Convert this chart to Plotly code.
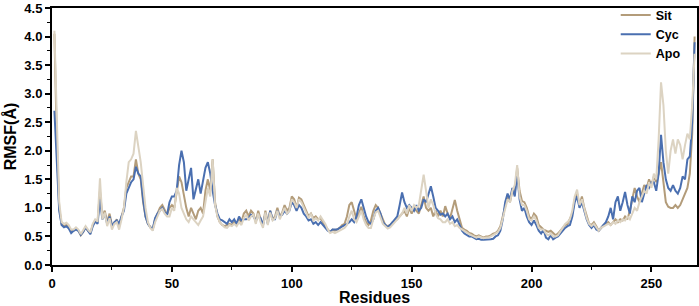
import plotly.graph_objects as go

residues = list(range(1, 269))

sit = [4.05, 2.2, 1.0, 0.72, 0.68, 0.7, 0.66, 0.6, 0.6, 0.64,
       0.6, 0.52, 0.58, 0.66, 0.6, 0.56, 0.7, 0.78, 0.75, 1.3,
       0.85, 0.95, 0.75, 0.9, 0.7, 0.72, 0.8, 0.68, 0.85, 1.0,
       1.35, 1.45, 1.55, 1.55, 1.85, 1.6, 1.5, 1.1, 0.85, 0.72,
       0.66, 0.62, 0.8, 0.9, 1.0, 1.05, 0.95, 0.88, 1.0, 1.05,
       1.0, 1.3, 1.55, 1.45, 1.2, 1.0, 0.85, 1.0, 0.9, 0.8,
       0.95, 1.0, 0.9, 1.3, 1.5, 1.3, 1.85, 1.1, 0.85, 0.75,
       0.7, 0.68, 0.7, 0.72, 0.7, 0.75, 0.72, 0.8, 0.75, 0.9,
       0.95, 0.85, 0.95, 0.9, 0.75, 0.95, 0.8, 0.7, 0.95, 0.75,
       0.95, 0.8, 0.85, 1.0, 0.85, 0.92, 1.05, 0.95, 1.0, 1.2,
       1.15, 1.0, 1.18, 1.15, 1.05, 0.95, 0.85, 0.9, 0.82, 0.85,
       0.8, 0.82, 0.75, 0.7, 0.62, 0.58, 0.62, 0.6, 0.62, 0.65,
       0.7, 0.72, 0.85, 1.05, 1.1, 0.95, 0.8, 0.9, 1.02, 0.85,
       0.75, 0.7, 0.78, 0.95, 1.05, 1.0, 0.9, 0.8, 0.7, 0.68,
       0.7, 0.75, 0.78, 0.8, 0.85, 0.9, 0.95, 0.85, 1.0, 0.9,
       1.0, 0.95, 0.9, 1.05, 1.2, 1.0, 0.95, 1.0, 0.85, 0.95,
       0.85, 0.95, 0.85, 1.03, 0.9, 0.82, 1.0, 1.14, 0.95, 0.8,
       0.65, 0.62, 0.6, 0.56, 0.55, 0.52, 0.5, 0.52, 0.5, 0.48,
       0.5, 0.5, 0.52, 0.55, 0.56, 0.6, 0.68, 0.85, 1.05, 1.2,
       1.1, 1.3, 1.25, 1.7, 1.3, 1.12, 1.1, 1.0, 0.85, 0.8,
       0.9, 0.85, 0.7, 0.65, 0.62, 0.6, 0.58, 0.6, 0.55, 0.52,
       0.55, 0.6, 0.65, 0.7, 0.72, 0.8, 0.9, 1.15, 1.25, 1.05,
       1.2, 1.0, 0.85, 0.72, 0.7, 0.75, 0.68, 0.6, 0.65, 0.7,
       0.72, 0.75, 0.7, 0.75, 0.8, 0.75, 0.8, 0.78, 0.85, 0.8,
       0.95, 1.15, 1.35, 1.2, 1.1, 1.25, 1.4, 1.35, 1.5, 1.4,
       1.55, 1.45, 1.6, 1.8, 1.4, 1.1, 1.02, 1.0, 1.0, 1.05,
       1.0, 1.05, 1.15, 1.25, 1.35, 1.6, 2.3, 4.0]

cyc = [2.7, 1.7, 0.95, 0.7, 0.66, 0.68, 0.64, 0.56, 0.6, 0.62,
       0.6, 0.53, 0.58, 0.66, 0.6, 0.54, 0.68, 0.76, 0.72, 1.15,
       0.8, 0.9, 0.72, 0.85, 0.68, 0.75, 0.78, 0.72, 0.85, 0.95,
       1.25, 1.35, 1.45, 1.5, 1.72, 1.6, 1.55, 1.15, 0.85, 0.72,
       0.66, 0.63, 0.82, 0.9, 0.95, 1.0, 0.92, 0.88, 1.1, 1.2,
       1.2, 1.3, 1.75, 2.0, 1.8, 1.3, 1.5, 1.7, 1.15, 1.35,
       1.5, 1.25, 1.5, 1.7, 1.8, 1.6, 1.3, 1.05, 0.9, 0.8,
       0.78, 0.75, 0.72, 0.8, 0.75, 0.8, 0.72, 0.85, 0.78, 0.8,
       0.8, 0.82, 0.88, 0.85, 0.78, 0.85, 0.82, 0.7, 0.9, 0.72,
       0.95, 0.8, 0.8, 0.95, 0.85, 0.88, 0.95, 0.9, 0.95, 1.1,
       1.05, 0.95, 1.05, 1.0, 0.9, 0.85, 0.78, 0.8, 0.72, 0.75,
       0.7, 0.75, 0.7, 0.65, 0.6, 0.58, 0.62, 0.62, 0.62, 0.65,
       0.68, 0.7, 0.72, 0.75, 0.8, 0.75, 0.85, 1.05, 1.15, 1.0,
       0.85, 0.75, 0.72, 0.8, 0.95, 1.0, 0.9, 0.75, 0.7, 0.66,
       0.7, 0.75, 0.78, 0.85, 1.05, 1.27, 1.1, 1.0, 1.05, 1.0,
       0.95, 1.05, 0.95, 1.0, 1.15, 1.1, 1.25, 1.38, 1.2, 1.0,
       0.95, 0.88, 0.9, 0.85, 0.9, 0.8, 0.85, 0.75, 0.8, 0.7,
       0.6, 0.55, 0.52, 0.5, 0.5, 0.48, 0.45, 0.46, 0.44, 0.44,
       0.44, 0.44, 0.45, 0.46, 0.5, 0.52, 0.6, 0.8, 1.1, 1.25,
       1.15, 1.35, 1.2, 1.6, 1.15, 0.95, 1.0, 0.85, 0.75, 0.7,
       0.78, 0.7, 0.6, 0.55, 0.62, 0.48, 0.45, 0.52, 0.45, 0.48,
       0.5, 0.55, 0.6, 0.65, 0.68, 0.7, 0.85, 1.1, 1.2, 1.0,
       1.1, 0.95, 0.8, 0.7, 0.65, 0.7, 0.62, 0.6, 0.65, 0.7,
       0.75, 0.85, 1.0, 0.8, 1.1, 1.2, 0.95, 1.1, 1.28, 1.05,
       0.9, 1.2, 1.1, 1.3, 1.35, 1.1, 1.25, 1.4, 1.35, 1.45,
       1.45, 1.3, 1.6, 2.28, 1.8, 1.5, 1.35, 1.3, 1.4, 1.3,
       1.25, 1.35, 1.55, 1.5, 1.85, 1.9, 2.5, 3.9]

apo = [4.1, 2.8, 1.1, 0.75, 0.72, 0.74, 0.7, 0.62, 0.62, 0.66,
       0.62, 0.54, 0.6, 0.68, 0.62, 0.57, 0.72, 0.8, 0.76, 1.52,
       0.8, 0.92, 0.68, 0.82, 0.62, 0.72, 0.75, 0.62, 0.8, 1.0,
       1.45, 1.8, 1.85, 1.95, 2.35, 2.1, 1.8, 1.4, 1.0, 0.75,
       0.65, 0.6, 0.75, 0.85, 0.95, 0.98, 0.9, 0.85, 0.85, 1.0,
       0.95, 1.35, 1.25, 1.0, 0.9, 0.8, 0.75, 0.85, 0.8, 0.75,
       0.7, 0.78, 0.85, 1.1, 1.35, 1.2, 1.85, 1.05, 0.85, 0.75,
       0.7, 0.66, 0.65, 0.7, 0.68, 0.72, 0.68, 0.75, 0.7, 0.82,
       0.88, 0.78, 0.85, 0.88, 0.72, 0.9, 0.75, 0.65, 0.92, 0.7,
       0.92, 0.78, 0.82, 0.95, 0.8, 0.9, 1.0, 0.9, 0.95, 1.15,
       1.1, 1.0, 1.15, 1.1, 1.0, 0.9, 0.82, 0.9, 0.78, 0.82,
       0.78, 0.85, 0.78, 0.72, 0.62, 0.56, 0.58, 0.56, 0.58, 0.6,
       0.62, 0.65, 0.7, 0.85, 0.95, 0.8, 0.75, 0.85, 0.95, 0.8,
       0.7, 0.65, 0.65, 0.8, 0.92, 0.95, 0.85, 0.72, 0.68, 0.64,
       0.66, 0.7, 0.75, 0.8, 0.85, 0.9, 1.0, 0.9, 1.05, 0.95,
       1.05, 1.0, 1.05, 1.3, 1.58, 1.3, 1.0, 1.15, 1.05, 0.9,
       0.82, 0.8, 0.75, 0.75, 0.8, 0.72, 0.75, 0.68, 0.7, 0.65,
       0.62, 0.6, 0.56, 0.54, 0.52, 0.5, 0.48, 0.5, 0.48, 0.47,
       0.48, 0.48, 0.5, 0.52, 0.55, 0.58, 0.65, 0.82, 1.0, 1.15,
       1.1, 1.3, 1.4, 1.75, 1.2, 1.05, 1.05, 0.95, 0.8, 0.78,
       0.85, 0.78, 0.65, 0.62, 0.62, 0.55, 0.52, 0.55, 0.5, 0.5,
       0.52, 0.58, 0.65, 0.72, 0.75, 0.8, 0.95, 1.2, 1.32, 1.05,
       1.15, 1.0, 0.82, 0.72, 0.68, 0.72, 0.65, 0.6, 0.65, 0.68,
       0.7, 0.72, 0.7, 0.75, 0.72, 0.78, 0.75, 0.8, 0.78, 0.85,
       0.8, 0.9, 1.0, 0.95, 1.1, 1.2, 1.3, 1.25, 1.45, 1.35,
       1.6, 1.5, 2.2, 3.2, 2.8, 2.0, 1.6, 2.0, 2.2, 1.95,
       2.2, 2.1, 1.85, 2.1, 2.3, 2.2, 2.8, 3.7]

series_names = ["Sit", "Cyc", "Apo"]
series_colors = ["#b39c7a", "#4a6fb0", "#dcd3c2"]
x_ticks = [0, 50, 100, 150, 200, 250]
y_ticks = [0.0, 0.5, 1.0, 1.5, 2.0, 2.5, 3.0, 3.5, 4.0, 4.5]

fig = go.Figure()
for name, vals, col in zip(series_names, [sit, cyc, apo], series_colors):
    fig.add_trace(go.Scatter(x=residues, y=vals, mode="lines", name=name,
                             line=dict(color=col, width=2)))

FAM = "Liberation Sans, Arial, sans-serif"
tick_font = dict(family=FAM, size=13, color="black", weight="bold")
title_font = dict(family=FAM, size=16, color="black", weight="bold")

fig.update_layout(
    width=699, height=306,
    margin=dict(l=52, r=2, t=8, b=41, autoexpand=False),
    paper_bgcolor="white", plot_bgcolor="white",
    font=dict(family=FAM, color="black"),
    legend=dict(x=0.874, y=1.03, xanchor="left", yanchor="top",
                bgcolor="rgba(0,0,0,0)",
                font=dict(family=FAM, size=12.5, color="black", weight="bold"),
                tracegroupgap=0, itemwidth=30),
    xaxis=dict(range=[0, 269], tickvals=x_ticks, ticks="outside", ticklen=5, tickwidth=1.5,
               tickcolor="black", showline=True, linecolor="black", linewidth=2, mirror=True,
               showgrid=False, zeroline=False, tickfont=tick_font,
               minor=dict(ticks="outside", ticklen=3, tickwidth=1.2, tickcolor="black", dtick=25, tick0=0),
               title=dict(text="Residues", font=title_font, standoff=1)),
    yaxis=dict(range=[0, 4.5], tickvals=y_ticks, tickformat=".1f", ticks="outside", ticklen=5, tickwidth=1.5,
               tickcolor="black", showline=True, linecolor="black", linewidth=2, mirror=True,
               showgrid=False, zeroline=False, tickfont=tick_font,
               minor=dict(ticks="outside", ticklen=3, tickwidth=1.2, tickcolor="black", dtick=0.25, tick0=0),
               title=dict(text="RMSF(Å)", font=title_font, standoff=4)),
)
# remove the browser's default 8px body margin so the figure fills the window
fig.write_html("out.html", config={"displayModeBar": False},
               post_script="document.body.style.margin='0';document.body.style.overflow='hidden';")
